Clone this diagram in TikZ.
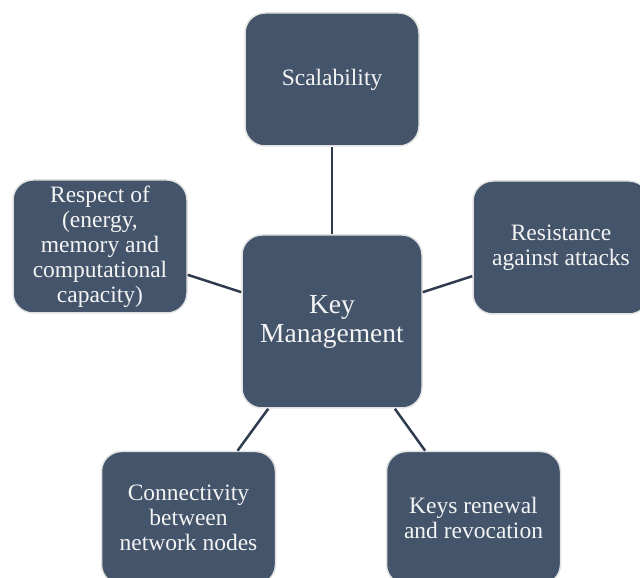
\documentclass[tikz,border=0pt]{standalone}
\usepackage{fontspec}
\setmainfont{Liberation Serif}
\usepackage{xcolor}
\definecolor{boxblue}{HTML}{44546A}
\definecolor{boxedge}{HTML}{E2E2E2}
\definecolor{linkblue}{HTML}{2F3C50}
\definecolor{boxtext}{HTML}{F4F4F4}

\begin{document}
\begin{tikzpicture}[x=1pt,y=1pt,
    prop/.style={draw=boxedge, line width=1.5pt, fill=boxblue, rounded corners=20pt,
        text=boxtext, align=center, inner sep=0pt, minimum width=174pt, minimum height=133pt,
        font=\fontsize{23.5}{25}\selectfont},
    hub/.style={prop, minimum width=180pt, minimum height=173pt,
        font=\fontsize{27.5}{29}\selectfont},
    link/.style={draw=linkblue, line width=2.5pt}]
            \useasboundingbox (0,0) rectangle (640,578);
            \clip (0,0) rectangle (640,578);
            % Key management properties
            \node[hub] (keym) at (332,256.5) {Key\\Management};
            \node[prop] (scal) at (332,498.5) {Scalability};
            \node[prop] (resp) at (100,331.5) {Respect of\\(energy,\\memory and\\computational\\capacity)};
            \node[prop, minimum width=176pt] (resis) at (561,330.5) {Resistance\\against attacks};
            \node[prop] (conn) at (188.5,60) {Connectivity\\between\\network nodes};
            \node[prop] (renew) at (473.5,60) {Keys renewal\\and revocation};

            \draw[link] (keym) -- (scal);
            \draw[link] (keym) -- (resp);
            \draw[link] (keym) -- (resis);
            \draw[link] (keym) -- (conn);
            \draw[link] (keym) -- (renew);
        \end{tikzpicture}
\end{document}
